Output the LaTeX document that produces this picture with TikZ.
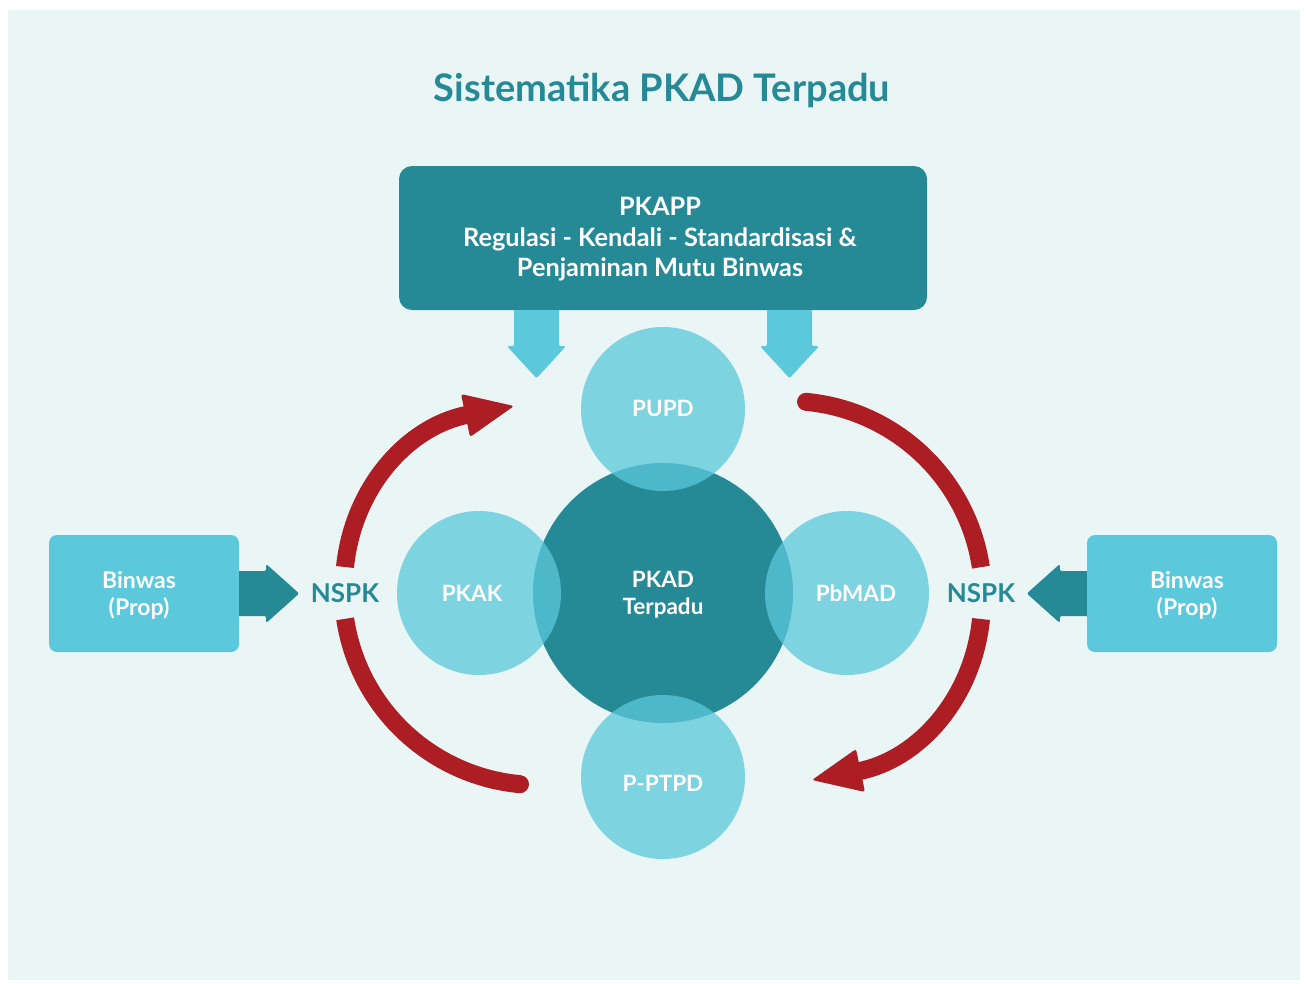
\documentclass[tikz,border=0pt]{standalone}
\usepackage{fontspec}
\setmainfont{Lato}
\usetikzlibrary{calc}
\definecolor{panel}{HTML}{EAF6F6}
\definecolor{tealdk}{HTML}{268A96}
\definecolor{lblue}{HTML}{5BC8DB}
\definecolor{redc}{HTML}{AD1E24}
\newcommand{\redpairdraw}{%
  \draw[redline] (345,567) .. controls (353,488) and (407,426.5) .. (468,414.6);
  \fill[redc, rounded corners=2.5pt] (461,394) -- (514,406) -- (470,437) -- cycle;
  \draw[redline] plot[domain=171.5:95.3, samples=60] ({538+195*cos(\x)},{590+195*sin(\x)});
  \fill[redc] (520,784.2) circle[radius=9pt];
}
\begin{document}
\begin{tikzpicture}[x=1pt,y=-1pt,
  titlestyle/.style={text=tealdk, font=\fontsize{38}{44}\selectfont\bfseries, anchor=base, inner sep=0pt},
  pktext/.style={text=white, font=\fontsize{25.3}{30}\selectfont\bfseries, anchor=base, inner sep=0pt},
  clbl/.style={text=white, font=\fontsize{22.5}{27}\selectfont\bfseries, anchor=base, inner sep=0pt},
  blbl/.style={text=white, font=\fontsize{23}{27}\selectfont\bfseries, anchor=base, inner sep=0pt},
  nspk/.style={text=tealdk, font=\fontsize{26}{30}\selectfont\bfseries, anchor=base, inner sep=0pt},
  bigc/.style={circle, fill=tealdk, minimum size=260pt, inner sep=0pt},
  smc/.style={circle, fill=lblue, fill opacity=0.75, minimum size=164pt, inner sep=0pt},
  binbox/.style={rectangle, rounded corners=8pt, fill=lblue, minimum width=190pt, minimum height=117pt, inner sep=0pt},
  pkbox/.style={rectangle, rounded corners=13pt, fill=tealdk, minimum width=528pt, minimum height=144pt, inner sep=0pt},
  redline/.style={draw=redc, line width=18pt, line cap=butt}
]
\useasboundingbox (0,0) rectangle (1306,983);
\fill[panel] (8,10) rectangle (1300,980);

% title
\node[titlestyle] (title) at (662,101) {Sistematika PKAD Terpadu};

% PKAPP box
\node[pkbox] (pkapp) at (663,238) {};
\node[pktext] (pk1) at (660,215.7) {PKAPP};
\node[pktext] (pk2) at (660,246) {Regulasi - Kendali - Standardisasi \&};
\node[pktext] (pk3) at (660,276.7) {Penjaminan Mutu Binwas};

% down arrows
\begin{scope}[shift={(pkapp.south)}]
  \fill[lblue] (-149,0) [rounded corners=2pt] -- (-149,36) -- (-156,36) -- (-126.5,68) -- (-97,36) -- (-104,36) [sharp corners] -- (-104,0) -- cycle;
  \fill[lblue] (104,0) [rounded corners=2pt] -- (104,36) -- (97,36) -- (126.5,68) -- (156,36) -- (149,36) [sharp corners] -- (149,0) -- cycle;
\end{scope}

% circles
\node[bigc] (pkad) at (663,593) {};
\node[smc] (pupd) at (663,409) {};
\node[smc] (pkak) at (479,593) {};
\node[smc] (pbmad) at (847,593) {};
\node[smc] (pptpd) at (663,777) {};

\node[clbl] (tpupd) at (663,416.7) {PUPD};
\node[clbl] (tpkak) at (472,601) {PKAK};
\node[clbl] (tpkad1) at (663,587.7) {PKAD};
\node[clbl] (tpkad2) at (663,614.3) {Terpadu};
\node[clbl] (tpbmad) at (856,601) {PbMAD};
\node[clbl] (tpptpd) at (663,791) {P-PTPD};

% Binwas boxes
\node[binbox] (binL) at (144,593.5) {};
\node[binbox] (binR) at (1182,593.5) {};
\node[blbl] (bl1) at (139,588.3) {Binwas};
\node[blbl] (bl2) at (139,615.7) {(Prop)};
\node[blbl] (br1) at (1187,588.3) {Binwas};
\node[blbl] (br2) at (1187,615.7) {(Prop)};

% side arrows
\begin{scope}[shift={(binL.east)}]
  \fill[tealdk] (0,-22.5) [rounded corners=2pt] -- (27,-22.5) -- (27,-29.5) -- (60,0) -- (27,29.5) -- (27,22.5) [sharp corners] -- (0,22.5) -- cycle;
\end{scope}
\begin{scope}[shift={(binR.west)}]
  \fill[tealdk] (0,-22.5) [rounded corners=2pt] -- (-27,-22.5) -- (-27,-29.5) -- (-60,0) -- (-27,29.5) -- (-27,22.5) [sharp corners] -- (0,22.5) -- cycle;
\end{scope}

% NSPK
\node[nspk] (nspkL) at (345,602.7) {NSPK};
\node[nspk] (nspkR) at (981,602.7) {NSPK};

% red cycle arrows
\redpairdraw
\begin{scope}[rotate around={180:(663,593)}]
  \redpairdraw
\end{scope}
\end{tikzpicture}
\end{document}
